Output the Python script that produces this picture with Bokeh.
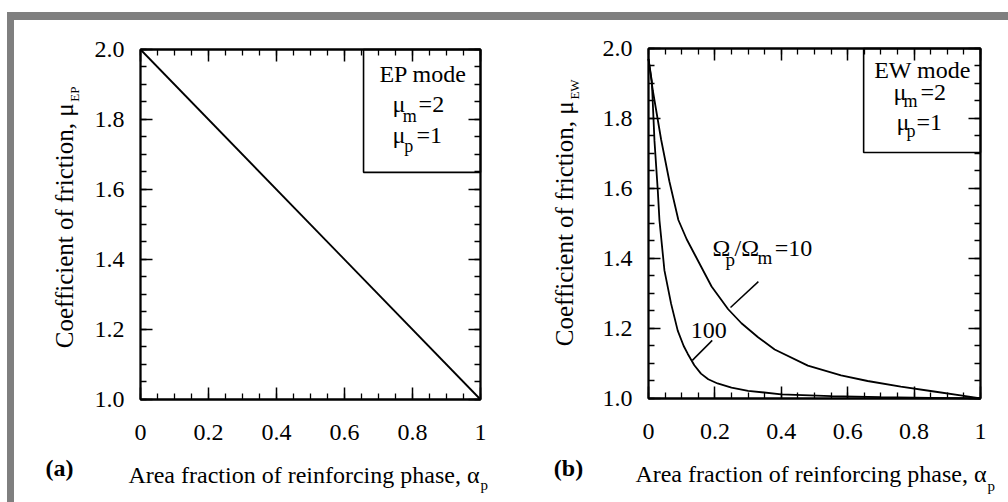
import numpy as np
from bokeh.plotting import figure
from bokeh.models import Label, FixedTicker, Spacer, Range1d, LinearAxis, BoxAnnotation
from bokeh.layouts import row, column
from bokeh.embed import file_html
from bokeh.resources import INLINE

# ---- data -------------------------------------------------------------
# (a) EP mode: straight rule of mixtures
frac_ep = [0.0, 1.0]
mu_ep = [2.0, 1.0]

# (b) EW mode, wear resistance ratio 10
frac_r10 = [0.0, 0.013, 0.038, 0.063, 0.09, 0.115, 0.14, 0.19, 0.24, 0.28,
            0.33, 0.38, 0.48, 0.58, 0.66, 0.76, 0.86, 0.94, 1.0]
mu_r10 = [1.97, 1.88, 1.74, 1.62, 1.51, 1.455, 1.41, 1.32, 1.255, 1.215,
          1.175, 1.14, 1.094, 1.066, 1.05, 1.034, 1.02, 1.009, 1.0]

# (b) EW mode, wear resistance ratio 100
frac_r100 = [0.0, 0.01, 0.018, 0.028, 0.033, 0.048, 0.068, 0.088, 0.106, 0.118,
             0.138, 0.158, 0.18, 0.208, 0.25, 0.3, 0.4, 0.55, 0.7, 0.85, 1.0]
mu_r100 = [1.97, 1.907, 1.736, 1.594, 1.509, 1.366, 1.271, 1.194, 1.15, 1.128,
           1.095, 1.071, 1.055, 1.043, 1.031, 1.022, 1.012, 1.007, 1.004, 1.002, 1.0]

x_ticks = [0.0, 0.2, 0.4, 0.6, 0.8, 1.0]
x_tick_labels = ["0", "0.2", "0.4", "0.6", "0.8", "1"]
y_ticks = [1.0, 1.2, 1.4, 1.6, 1.8, 2.0]
y_tick_labels = ["1.0", "1.2", "1.4", "1.6", "1.8", "2.0"]

SERIF = "Liberation Serif"
INK = "#000000"
FS = "24px"
XMINOR = list(np.round(np.arange(0, 1.0001, 0.05), 2))
YMINOR = list(np.round(np.arange(1, 2.0001, 0.05), 2))


def make_axis(ticks, minor, loc, bounds, labels=None, standoff=0):
    ax = LinearAxis(fixed_location=loc, bounds=bounds,
                    ticker=FixedTicker(ticks=ticks, minor_ticks=minor))
    ax.major_tick_in = 12
    ax.major_tick_out = 0
    ax.minor_tick_in = 6
    ax.minor_tick_out = 0
    ax.axis_line_width = 1.8
    ax.major_tick_line_width = 1.5
    ax.minor_tick_line_width = 1.3
    ax.axis_line_color = INK
    ax.major_tick_line_color = INK
    ax.minor_tick_line_color = INK
    if labels is None:
        ax.major_label_text_color = None
    else:
        ax.major_label_overrides = dict(zip(ticks, labels))
        ax.major_label_text_font = SERIF
        ax.major_label_text_font_size = FS
        ax.major_label_text_color = INK
        ax.major_label_standoff = standoff
    return ax


def panel(x_start, x_end, y_start, y_end):
    # the frame fills the whole canvas; the boxed axes sit at fixed locations
    p = figure(width=497, height=482, title=None,
               x_range=Range1d(x_start, x_end), y_range=Range1d(y_start, y_end),
               x_axis_location=None, y_axis_location=None,
               output_backend="svg", toolbar_location=None, min_border=0)
    p.grid.visible = False
    p.outline_line_color = None
    p.background_fill_color = "white"
    p.border_fill_color = "white"
    p.add_layout(make_axis(x_ticks, XMINOR, 1.0, (0, 1), x_tick_labels, 26), "below")
    p.add_layout(make_axis(y_ticks, YMINOR, 0.0, (1, 2), y_tick_labels, 16), "left")
    p.add_layout(make_axis(x_ticks, XMINOR, 2.0, (0, 1)), "above")
    p.add_layout(make_axis(y_ticks, YMINOR, 1.0, (1, 2)), "right")
    p.add_layout(BoxAnnotation(left=0, right=1, bottom=1, top=2, fill_alpha=0,
                               line_color=INK, line_alpha=1.0, line_width=1.8))
    return p


def txt(p, x, y, s, size=FS, align="left", angle=0.0, weight="normal"):
    p.add_layout(Label(x=x, y=y, text=s, text_font=SERIF, text_font_size=size,
                       text_align=align, text_baseline="alphabetic",
                       angle=angle, text_color=INK, text_font_style=weight))


def legend_box(p, left, bottom):
    p.add_layout(BoxAnnotation(left=left, right=1.0, bottom=bottom, top=2.0,
                               fill_alpha=0, line_color=INK, line_alpha=1.0,
                               line_width=1.6))


# ---- panel (a) ----------------------------------------------------------
pa = panel(-0.370588, 1.091176, 0.705714, 2.082857)
pa.line(frac_ep, mu_ep, line_color=INK, line_width=1.8)
legend_box(pa, 0.656, 1.649)
txt(pa, 0.831, 1.9286, "EP mode", align="center")
txt(pa, 0.741, 1.8429, "μ")
txt(pa, 0.771, 1.8114, "m", size="18px")
txt(pa, 0.818, 1.8429, "=2")
txt(pa, 0.741, 1.7543, "μ")
txt(pa, 0.776, 1.7229, "p", size="18px")
txt(pa, 0.812, 1.7543, "=1")
txt(pa, -0.2235, 1.846, "Coefficient of friction, μ", size="25px", align="right", angle=np.pi / 2)
txt(pa, -0.194, 1.851, "EP", size="13px", angle=np.pi / 2)
txt(pa, 0.997, 0.7857, "Area fraction of reinforcing phase, α", align="right")
txt(pa, 1.0, 0.7543, "p", size="15px")
txt(pa, -0.2382, 0.8029, "(a)", align="center", weight="bold")

# ---- panel (b) ----------------------------------------------------------
pb = panel(-0.412651, 1.084337, 0.702857, 2.08)
pb.line(frac_r10, mu_r10, line_color=INK, line_width=1.8)
pb.line(frac_r100, mu_r100, line_color=INK, line_width=1.8)
legend_box(pb, 0.648, 1.703)
txt(pb, 0.8253, 1.94, "EW mode", align="center")
txt(pb, 0.738, 1.8771, "μ")
txt(pb, 0.768, 1.8514, "m", size="18px")
txt(pb, 0.819, 1.8771, "=2")
txt(pb, 0.747, 1.7886, "μ")
txt(pb, 0.777, 1.7629, "p", size="18px")
txt(pb, 0.807, 1.7886, "=1")
# curve labels with leader lines
txt(pb, 0.193, 1.4286, "Ω")
txt(pb, 0.232, 1.3971, "p", size="19px")
txt(pb, 0.259, 1.4286, "/Ω")
txt(pb, 0.328, 1.4029, "m", size="19px")
txt(pb, 0.38, 1.4286, "=10")
pb.line([0.331, 0.247], [1.334, 1.26], line_color=INK, line_width=1.5)
txt(pb, 0.127, 1.1943, "100")
pb.line([0.192, 0.132], [1.166, 1.109], line_color=INK, line_width=1.5)
txt(pb, -0.253, 1.849, "Coefficient of friction, μ", size="25px", align="right", angle=np.pi / 2)
txt(pb, -0.2229, 1.854, "EW", size="13px", angle=np.pi / 2)
txt(pb, 1.018, 0.7829, "Area fraction of reinforcing phase, α", align="right")
txt(pb, 1.021, 0.7514, "p", size="15px")
txt(pb, -0.241, 0.80, "(b)", align="center", weight="bold")

# ---- grey frame around the pair of panels -------------------------------
GREY = "#7f7f7f"
top_band = row(Spacer(width=7, height=8),
               Spacer(width=1001, height=8, styles={"background-color": GREY}))
body = row(Spacer(width=7, height=482),
           Spacer(width=7, height=482, styles={"background-color": GREY}),
           pa, pb)
layout = column(Spacer(width=1008, height=12), top_band, body)

open("out.html", "w").write(file_html(layout, INLINE))
